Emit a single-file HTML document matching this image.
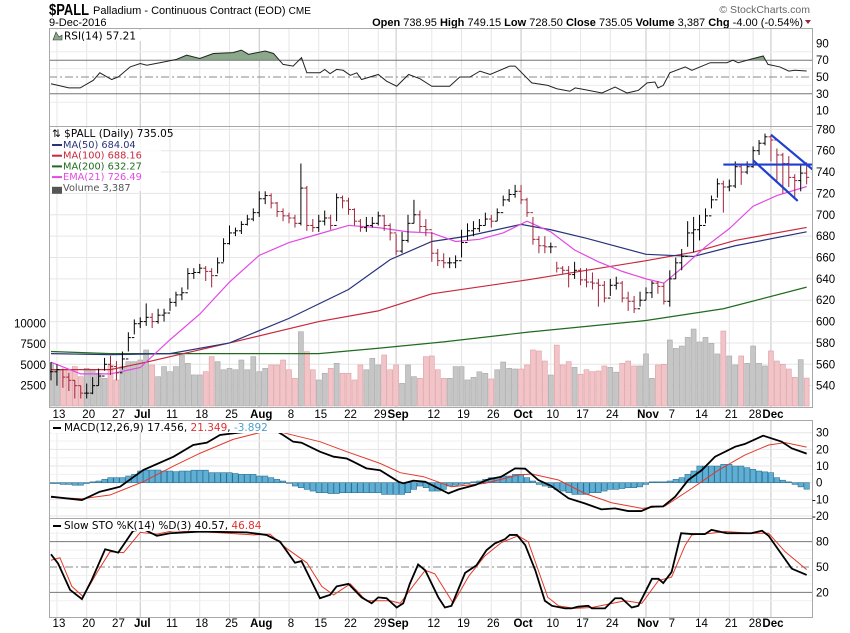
<!DOCTYPE html>
<html><head><meta charset="utf-8">
<style>
html,body{margin:0;padding:0;background:#fff;}
body{width:850px;height:633px;overflow:hidden;}
svg{display:block;font-family:"Liberation Sans",sans-serif;}
.lg{font-family:"DejaVu Sans","Liberation Sans",sans-serif;}
</style></head>
<body>
<svg id="chart" width="850" height="633" viewBox="0 0 850 633" xmlns="http://www.w3.org/2000/svg">
  <g>
    <text x="49" y="15" font-size="16" font-weight="bold" fill="#000" textLength="40" lengthAdjust="spacingAndGlyphs">$PALL</text>
    <text x="93" y="14" font-size="11" fill="#000">Palladium - Continuous Contract (EOD) <tspan font-size="10">CME</tspan></text>
    <text x="49" y="26" font-size="11" fill="#000">9-Dec-2016</text>
    <text x="810" y="13" font-size="10.5" fill="#666" text-anchor="end">© StockCharts.com</text>
    <text x="803" y="26" font-size="11" fill="#000" text-anchor="end"><tspan font-weight="bold">Open</tspan> 738.95  <tspan font-weight="bold">High</tspan> 749.15  <tspan font-weight="bold">Low</tspan> 728.50  <tspan font-weight="bold">Close</tspan> 735.05  <tspan font-weight="bold">Volume</tspan> 3,387  <tspan font-weight="bold">Chg</tspan> -4.00 (-0.54%)</text>
    <path d="M805 20 L811 20 L808 24 Z" fill="#a0233a"/>
  </g>
  <g id="grid"></g>
  <g id="marks"></g>
  <g id="frames"></g>
  <g id="labels"></g>
</svg>
<script>
// ---------- DATA ----------
const dateLabels = ["13","20","27","Jul","11","18","25","Aug","8","15","22","29","Sep","12","19","26","Oct","10","17","24","Nov","7","14","21","28","Dec"];
const dateLabelIdx = [1,6,11,15,20,25,30,35,40,45,50,55,58,64,69,74,79,84,89,94,100,104,109,114,118,121];
const closes = [553,555,548,545,540,533,533,540,549,560,558,552,565,585,598,600,604,600,606,608,618,625,627,645,646,650,647,643,655,673,683,685,691,696,702,715,718,711,703,699,697,692,725,690,688,694,697,690,716,713,705,694,688,690,692,699,690,683,666,676,692,700,689,686,664,657,655,655,657,674,685,687,690,696,694,702,714,719,722,714,702,677,671,670,670,650,648,644,648,639,637,636,634,622,634,636,622,619,612,620,627,636,633,619,640,655,661,683,686,690,699,714,729,726,727,745,740,745,760,767,773,770,756,748,735,732,739,735.05];
const highs = [562,560,556,552,545,540,542,548,556,566,568,563,572,590,602,604,617,608,612,612,622,628,632,650,650,654,652,650,660,678,690,688,694,700,706,722,722,720,712,706,702,700,748,727,696,700,704,700,720,718,716,706,696,698,698,703,700,692,682,684,700,714,704,696,684,668,664,660,662,686,692,694,696,702,700,706,718,724,728,728,716,698,680,680,674,656,652,652,656,650,650,646,640,638,640,642,638,628,624,628,632,638,638,636,648,660,668,694,698,700,706,718,734,732,733,750,748,750,764,770,776,775,762,758,755,738,748,749.15];
const lows = [545,540,538,535,528,528,528,532,540,554,550,545,555,572,588,594,596,594,598,600,610,614,620,630,640,645,638,632,645,656,672,680,682,690,694,698,710,706,698,694,692,688,690,685,684,684,690,686,694,706,700,690,684,684,688,690,685,676,662,664,674,692,684,680,656,652,650,650,650,660,676,680,684,690,688,694,708,712,716,710,698,672,664,664,664,646,644,632,640,634,632,630,614,618,624,630,618,610,608,614,620,622,626,616,614,640,648,670,665,676,692,706,716,702,722,725,728,738,744,756,765,750,732,720,726,715,722,728.5];
const volumes = [5220,4400,4400,4400,4780,3560,4570,4400,3970,3360,4980,3160,4780,5380,5380,5580,6800,4980,3560,4780,4170,4780,6190,5180,3770,3770,4170,5990,5380,4400,4570,4400,5580,4400,5990,4170,4570,4980,4980,5580,4400,3360,9020,6600,4400,3160,3970,4570,5180,3970,3970,3160,4980,4400,5790,4980,6190,4400,4980,2750,4980,3560,3360,5990,6070,4400,3360,3360,4780,4780,3160,3480,4150,3970,3280,4400,5340,4570,4490,4490,4980,6800,6680,5460,3760,7390,4980,5380,4690,3850,4400,4170,4250,4860,4690,4110,5180,5460,4860,4860,6320,3360,4980,5060,8010,6990,7280,8330,9340,7770,8330,7610,6320,9100,6070,4980,6070,5180,7280,5180,4860,6680,5460,5060,4490,3480,5620,3387];
const ma50Idx = [0,10,20,30,40,50,57,64,70,79,84,90,100,108,115,127];
const ma50Val = [570,569,570,580,603,630,658,675,680,691,686,678,663,661,671,684.04];
const ma100Idx = [0,10,16,30,45,55,64,80,100,108,115,127];
const ma100Val = [555,555,562,580,600,610,626,639,657,665,676,688.16];
const ma200Idx = [0,10,30,45,55,66,80,100,113,127];
const ma200Val = [572,570,570,570,575,581,590,601,612,632.27];
const emaIdx = [0,5,10,15,20,25,30,35,40,45,50,55,60,64,68,72,76,80,84,88,92,96,100,103,106,110,114,118,122,127];
const emaVal = [562,551,551,557,583,607,637,662,674,682,690,688,684,683,675,677,683,694,684,667,656,647,640,636,650,670,687,708,718,726.49];
const rsiIdx = [0,3,4.9,7.1,8.2,10.2,11.3,13.3,15,16.1,18.3,21.1,22.8,25,27.3,30.6,32,33.2,36,37.4,39,40.7,42.1,43,45.2,46,46.9,48,49.1,50.3,51.4,52.2,55,56.4,58.1,60.1,62,64,67,68.7,70.4,72.1,73.8,77.1,78,80.8,83.5,85,87.2,88.1,89.7,92.6,94.8,96.8,98.7,100.2,101.5,102,102.9,104,106.6,107.7,110.8,113.6,114.6,115.5,117.5,119.7,120.5,122.5,124,125,127];
const rsiVal = [42,37,37,46,55,47,50,62,66,64,67,71,76,72,78,79,82,77,81,78,65,63,73,55,55,59,54,59,58,52,55,47,53,45,39,53,48,39,39,50,50,57,53,63,63,43,40,36,33,37,35,31,38,31,34,43,44,37,40,55,62,58,67,67,70,67,71,75,65,62,57,58,57.21];
const macdIdx = [0,5.2,8.2,10.5,11.6,15.5,20.6,23.9,26.2,28.4,30.6,34,37.4,39,40.7,42.1,45.2,47.5,49.7,50.8,53,55.3,58.4,59.2,60.9,62.9,66.8,68.5,71.3,73.5,75.7,78,79.7,81.9,84.1,87,89.7,92.5,94.8,97,99.2,100.9,102.9,104.9,107.1,109.4,111.6,115,116.6,119.7,122.8,124.5,127];
const macdVal = [-8.4,-10.4,-5.4,-3.4,-2.4,7.6,15.6,22.6,24,28.6,29.6,31,32,28.6,24.6,24,18.6,15.6,14.5,12.6,8.6,7.5,0.6,-0.4,1.2,0.6,-6.4,-4,-1.4,2,3.6,8.6,8.4,1.6,-2,-9.4,-12.4,-16,-15.4,-17,-17,-14.4,-14.2,-8.4,1.6,7.6,15.6,21.6,23.2,28.2,24.6,20.6,17.456];
const signalIdx = [0,5.2,9.9,12.7,15.5,20.6,25,30.6,35.7,39,45.2,49.7,55.3,58.7,62.6,67.3,72.9,78.5,80.8,85.3,89.7,94.2,99.3,103.2,107.7,112.2,116.6,120.6,123.4,127];
const signalVal = [-8.8,-9.6,-7.4,-3.4,0.6,10,17.6,26,30.6,30,24.6,18.6,11.6,6,3.6,-2.4,-0.4,4.6,5.2,1.6,-6.4,-12,-15.4,-14,-3.4,7.6,16.6,22.6,24,21.349];
const histVal = [-0.5,-0.5,-1,-1,-1.5,-1.5,-0.5,0.5,1,2,3,3,3,4,5,7,7.6,7.6,7.6,7,7,6.6,7,7,7.5,7.5,7.5,6,6,6,6,5.5,5,5,5,4,4,3,2,1,0,-2,-3,-4,-5,-6,-6,-6.5,-6.5,-6,-6,-6,-6,-6,-6,-6,-7,-7,-7,-7,-6,-4,-2,-3,-5,-5,-4,-2,-1.5,-1,-0.5,0.5,1,2,3,3,4,4,5,5,3,1,-1,-2,-3,-4,-5,-6,-7,-7,-7,-6,-6,-5,-4,-4,-3.5,-3,-3,-2.5,-1,0.5,0.5,0.5,1,2,3,5,7,10,10,10,10,11,11,10,10,9,8,7,6.5,6,3,1.5,0.5,-1,-2.5,-3.892];
const stoKIdx = [0,1.2,3.2,5.2,6.8,9.1,11.3,13.8,15.5,17.8,20,25,32.9,36.2,38.5,41,42.1,45.2,46.9,48,50,52.2,53.9,55,56.4,58.1,59.2,60.3,61.7,62.9,65.1,66.2,67.3,69.6,71.5,73.2,74.6,76.3,77.1,78.3,79.7,81.4,83,84.2,86.4,87.5,88.6,90.3,90.9,93.1,94.8,95.9,97.6,98.7,101,102.1,102.9,104.3,105.9,107.7,109.9,111,113.6,117.7,119.5,120.6,122.3,124.5,127];
const stoKVal = [65,54,23,12,34,71,67,93,95,87,90,92,91,88,80,55,57,13,17,27,30,14,7,14,13,2,7,30,53,46,14,2,4,43,52,70,78,83,88,88,76,46,10,4,1,1,3,4,1,1,13,13,2,4,36,36,31,44,90,89,89,94,90,90,93,87,70,48,40.57];
const stoDIdx = [0,1.5,3.5,5.4,7.7,9.9,12.2,15,17.8,20.6,25,34,36.8,39.6,43,45.5,47.5,50.3,53,57,58.7,60.9,62.9,64.5,67.6,70.2,72.9,75.7,78.5,80.2,83.5,85.3,88,90.9,93.7,96.5,99.3,102.1,104.3,106.6,107.7,111,113.3,117.7,120.6,123.4,127];
const stoDVal = [58,61,27,15,43,68,67,91,89,93,92,88,89,72,55,27,17,30,10,10,7,28,46,42,7,39,63,79,87,80,14,4,1,2,6,10,7,34,38,76,88,90,92,90,90,68,46.84];
const priceTicks = [540,560,580,600,620,640,660,680,700,720,740,760,780];
const volTicks = [2500,5000,7500,10000];
const rsiTicks = [10,30,50,70,90];
const macdTicks = [-20,-10,0,10,20,30];
const stoTicks = [20,50,80];
// trendline annotations in (bar index, price)
const trendIdx = [[113,128.5],[121,128.3],[118,125.5]];
const trendPx = [[747,747],[775,741],[751,713]];

// ---------- AXES ----------
const L=49,R=813;
const X=i=>51+i*5.95;
const Yp=p=>150.7+(760-p)*1.068;
const Yv=v=>406-v/2500*20.6;
const Yr=v=>77-(v-50)*0.84;
const Ym=v=>482.7-v*1.667;
const Ys=v=>567-(v-50)*0.844;
const P={rsi:[28,126],price:[126,407],macd:[420,518],sto:[518,617]};

const NS="http://www.w3.org/2000/svg";
const svg=document.getElementById('chart');
function mk(tag,attrs,parent){const e=document.createElementNS(NS,tag);for(const k in attrs)e.setAttribute(k,attrs[k]);parent.appendChild(e);return e;}
const grid=document.getElementById('grid'),marks=document.getElementById('marks'),frames=document.getElementById('frames'),labels=document.getElementById('labels');

const defs=mk('defs',{},svg);
for(const k in P){const c=mk('clipPath',{id:'clip-'+k},defs);mk('rect',{x:L,y:P[k][0],width:R-L,height:P[k][1]-P[k][0]},c);}
const c70=mk('clipPath',{id:'clip-rsi-hi'},defs);mk('rect',{x:L,y:P.rsi[0],width:R-L,height:Yr(70)-P.rsi[0]},c70);

for(let j=0;j<dateLabelIdx.length;j++){
  const x=X(dateLabelIdx[j]);
  const isMonth=isNaN(+dateLabels[j]);
  for(const k in P){
    const gl=mk('line',{x1:x,x2:x,y1:P[k][0],y2:P[k][1],stroke:isMonth?'#c4c4c4':'#e6e6e6','stroke-width':1},grid);
    
    
  }
}
function hgrid(vals,fy,panel,color){for(const v of vals){const y=fy(v);const gl=mk('line',{x1:L,x2:R,y1:y,y2:y,stroke:color,'stroke-width':1},grid);}}
hgrid(priceTicks,Yp,'price','#e6e6e6');
hgrid([20,40,60,80],Yr,'rsi','#ececec');
hgrid([-15,-5,5,15,25],Ym,'macd','#f0f0f0');hgrid(macdTicks,Ym,'macd','#e6e6e6');
hgrid([10,30,40,60,70,90],Ys,'sto','#efefef');

// ---------- RSI ----------
const gR=mk('g',{},marks);

let rsiPts=rsiIdx.map((d,i)=>X(d)+','+Yr(rsiVal[i])).join(' ');
const rf=mk('polygon',{points:rsiPts+' '+X(rsiIdx[rsiIdx.length-1])+','+Yr(70)+' '+X(rsiIdx[0])+','+Yr(70),fill:'#8aa88a','clip-path':'url(#clip-rsi-hi)'},gR);

for(const v of [70,30]){const l=mk('line',{x1:L,x2:R,y1:Yr(v),y2:Yr(v),stroke:'#777','stroke-width':1},gR);}
const l50=mk('line',{x1:L,x2:R,y1:Yr(50),y2:Yr(50),stroke:'#888','stroke-width':1,'stroke-dasharray':'8,3,2,3'},gR);

const rl=mk('polyline',{points:rsiPts,fill:'none',stroke:'#222','stroke-width':1},gR);


// ---------- PRICE ----------
const gP=mk('g',{'clip-path':'url(#clip-price)'},marks);

for(let i=0;i<volumes.length;i++){
  const down=i>0&&closes[i]<closes[i-1];
  const y=Yv(volumes[i]);
  const r=mk('rect',{x:X(i)-2.5,y:y,width:5,height:406-y,fill:down?'#f2c4c8':'#c6c6c6',stroke:down?'#dca0a6':'#a8a8a8','stroke-width':0.6},gP);
  
}
function sparse(idx,val,fy,color,name,w,parent){const pl=mk('polyline',{points:idx.map((d,i)=>X(d)+','+fy(val[i])).join(' '),fill:'none',stroke:color,'stroke-width':w||1.2},parent);return pl;}
sparse(ma200Idx,ma200Val,Yp,'#1f6b1f','ma200-line',1.2,gP);
sparse(ma100Idx,ma100Val,Yp,'#c8283c','ma100-line',1.2,gP);
sparse(ma50Idx,ma50Val,Yp,'#28337a','ma50-line',1.2,gP);
sparse(emaIdx,emaVal,Yp,'#e24ae2','ema21-line',1.2,gP);
for(let i=0;i<closes.length;i++){
  const down=i>0&&closes[i]<closes[i-1];
  const col=down?'#a0233a':'#000';
  const open=i>0?closes[i-1]:closes[i];
  const x=X(i);
  const g=mk('g',{stroke:col,'stroke-width':1},gP);
  
  mk('line',{x1:x,x2:x,y1:Yp(highs[i]),y2:Yp(lows[i])},g);
  mk('line',{x1:x-2.5,x2:x,y1:Yp(open),y2:Yp(open)},g);
  mk('line',{x1:x,x2:x+2.5,y1:Yp(closes[i]),y2:Yp(closes[i])},g);
}
for(let t=0;t<trendIdx.length;t++){
  const tl=mk('line',{x1:X(trendIdx[t][0]),x2:X(trendIdx[t][1]),y1:Yp(trendPx[t][0]),y2:Yp(trendPx[t][1]),stroke:'#1f3fcf','stroke-width':2.2},gP);
  
}

// ---------- MACD ----------
const gM=mk('g',{'clip-path':'url(#clip-macd)'},marks);

for(let i=0;i<histVal.length;i++){
  const y0=Ym(0),y1=Ym(histVal[i]);
  const r=mk('rect',{x:X(i)-2.7,y:Math.min(y0,y1),width:5.4,height:Math.max(0.6,Math.abs(y1-y0)),fill:'#5eafd6',stroke:'#2f6f8f','stroke-width':0.6},gM);
  
}
sparse(signalIdx,signalVal,Ym,'#e23a2a','macd-signal-line',1,gM);
sparse(macdIdx,macdVal,Ym,'#000','macd-line',1.8,gM);

// ---------- STO ----------
const gS=mk('g',{'clip-path':'url(#clip-sto)'},marks);

for(const v of [80,20]){const l=mk('line',{x1:L,x2:R,y1:Ys(v),y2:Ys(v),stroke:'#777','stroke-width':1},gS);}
const s50=mk('line',{x1:L,x2:R,y1:Ys(50),y2:Ys(50),stroke:'#888','stroke-width':1,'stroke-dasharray':'8,3,2,3'},gS);

sparse(stoDIdx,stoDVal,Ys,'#e23a2a','sto-d-line',1,gS);
sparse(stoKIdx,stoKVal,Ys,'#000','sto-k-line',1.8,gS);

// ---------- FRAMES ----------
for(const k in P){const f=mk('rect',{x:L+0.5,y:P[k][0]+0.5,width:R-L-1,height:P[k][1]-P[k][0],fill:'none',stroke:'#a8a8a8','stroke-width':1},frames);}

// ---------- LABELS ----------
function txt(x,y,s,attrs,name){const t=mk('text',Object.assign({x:x,y:y,'font-size':11.5,fill:'#000'},attrs||{}),labels);t.textContent=s;return t;}
for(const v of priceTicks)txt(816,Yp(v)+4,String(v),{},'price-tick-label');
for(const v of volTicks)txt(46,Yv(v)+4,String(v),{'text-anchor':'end'},'volume-tick-label');
for(const v of rsiTicks)txt(816,Yr(v)+4,String(v),{},'rsi-tick-label');
for(const v of macdTicks)txt(v<0?812:816,Ym(v)+4,String(v),{},'macd-tick-label');
for(const v of stoTicks)txt(816,Ys(v)+4,String(v),{},'sto-tick-label');
for(let j=0;j<dateLabels.length;j++){
  const m=isNaN(+dateLabels[j]);
  for(const y of [418,627])txt(X(dateLabelIdx[j])+2,y,dateLabels[j],{'text-anchor':'middle','font-weight':m?'bold':'normal'},'date-label');
}
function leg(x,y,parts,name,size){const t=mk('text',{x:x,y:y,'font-size':size||10.5,class:'lg'},labels);for(const p of parts){const s=mk('tspan',{fill:p[1]},t);s.textContent=p[0];}return t;}
const rb=mk('rect',{x:51,y:30,width:95,height:11,fill:'#fff'},labels);
const ric=mk('path',{d:'M53 40 L56 32 L59 37 L62 35 L62 40 Z',fill:'#8aa88a',stroke:'#333','stroke-width':0.6},labels);
leg(64,39.5,[['RSI(14) 57.21','#000']],'rsi-legend');
const pb=mk('rect',{x:51,y:128,width:110,height:63,fill:'#fff','fill-opacity':0.85},labels);
leg(52,137,[['⇅ $PALL (Daily) 735.05','#000']],'price-legend-title',10.5);
const maLeg=[['MA(50) 684.04','#28337a'],['MA(100) 688.16','#c8283c'],['MA(200) 632.27','#1f6b1f'],['EMA(21) 726.49','#e24ae2'],['Volume 3,387','#555']];
for(let k=0;k<maLeg.length;k++){
  const y=148+k*10.7;
  const sw=mk('rect',{x:52,y:y-4,width:10,height:k==4?7:2,fill:maLeg[k][1]},labels);
  
  leg(63,y,[[maLeg[k][0],maLeg[k][1]]],'legend-entry',9.8);
}
const mb=mk('rect',{x:51,y:421,width:236,height:12,fill:'#fff'},labels);
const ms=mk('rect',{x:53,y:427,width:8,height:2,fill:'#000'},labels);
leg(64,431,[['MACD(12,26,9) 17.456','#000'],[', ','#000'],['21.349','#d33'],[', ','#000'],['-3.892','#4aa0c8']],'macd-legend');
const sb=mk('rect',{x:51,y:519,width:226,height:12,fill:'#fff'},labels);
const ss=mk('rect',{x:53,y:525,width:8,height:2,fill:'#000'},labels);
leg(64,529,[['Slow STO %K(14) %D(3) 40.57','#000'],[', ','#000'],['46.84','#d33']],'sto-legend');
</script>
</body></html>
